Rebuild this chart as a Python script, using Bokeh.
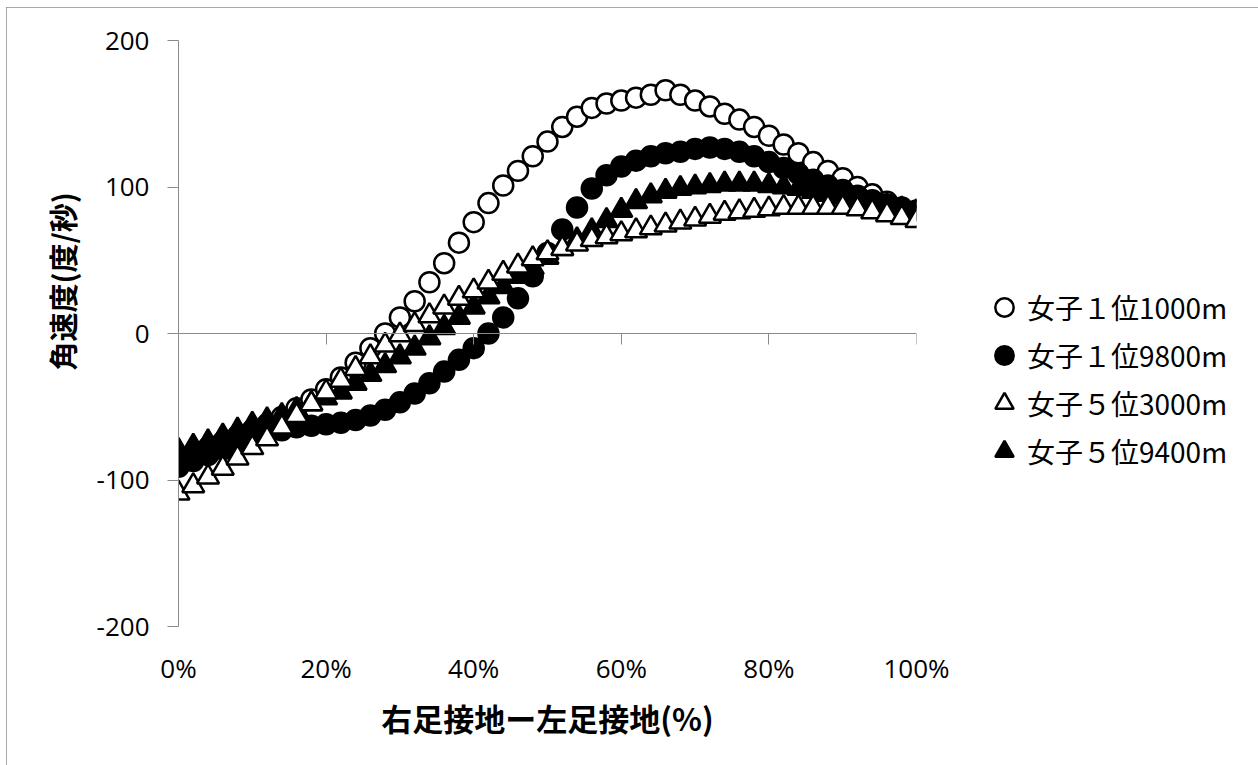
import math
from bokeh.plotting import figure
from bokeh.models import (Range1d, LinearAxis, FixedTicker, Legend, LegendItem, Title)
from bokeh.embed import file_html
from bokeh.resources import INLINE

# ---- data ----
x_pct = [0, 2, 4, 6, 8, 10, 12, 14, 16, 18, 20, 22, 24, 26, 28, 30, 32, 34, 36, 38, 40,
         42, 44, 46, 48, 50, 52, 54, 56, 58, 60, 62, 64, 66, 68, 70, 72, 74, 76, 78, 80,
         82, 84, 86, 88, 90, 92, 94, 96, 98, 100]

w1_1000m = [-86, -82, -78, -74, -70, -66, -62, -57, -51, -45, -38, -30, -20, -10, 0, 11, 22, 35, 48, 62, 76,
            89, 101, 111, 121, 131, 141, 148, 154, 157, 159, 161, 163, 166, 163, 159, 155, 150, 146, 141, 135,
            129, 123, 117, 111, 106, 100, 95, 90, 85, 80]

w1_9800m = [-91, -87, -83, -79, -75, -71, -68, -66, -64, -63, -62, -61, -59, -56, -52, -47, -41, -34, -26, -18, -10,
            0, 11, 24, 39, 55, 71, 86, 99, 108, 114, 118, 121, 123, 124, 126, 127, 126, 124, 121, 117,
            113, 109, 105, 101, 98, 94, 91, 88, 86, 84]

w5_3000m = [-109, -104, -98, -92, -85, -78, -72, -64, -56, -48, -40, -32, -24, -16, -8, -1, 6, 12, 18, 24, 29,
            35, 41, 46, 51, 55, 58, 61, 64, 66, 68, 70, 72, 74, 76, 78, 80, 82, 83, 84, 85,
            86, 86, 86, 86, 86, 85, 83, 81, 79, 77]

w5_9400m = [-80, -77, -74, -70, -66, -62, -59, -56, -52, -48, -44, -40, -34, -28, -22, -16, -10, -3, 4, 11, 18,
            25, 32, 39, 45, 52, 58, 64, 70, 77, 84, 90, 94, 97, 99, 100, 101, 102, 102, 102, 101,
            100, 99, 97, 95, 93, 91, 89, 87, 85, 83]

series_names = ["女子１位1000m", "女子１位9800m", "女子５位3000m", "女子５位9400m"]
x_ticks = [0, 20, 40, 60, 80, 100]
y_ticks = [-200, -100, 0, 100, 200]
y_title = "角速度(度/秒)"
x_title = "右足接地ー左足接地(%)"

AXIS_GRAY = "#8a8a8a"
TICK_FONT = "Open Sans"
CJK_FONT = "Noto Sans CJK JP"

p = figure(frame_width=738, frame_height=586,
           min_border_left=172, min_border_right=340, min_border_top=33, min_border_bottom=139,
           x_range=Range1d(0, 100), y_range=Range1d(-200, 200),
           output_backend="svg", toolbar_location=None, background_fill_color="white",
           border_fill_color="white")
p.styles = {"outline": "1px solid #8c8c8c", "outline-offset": "-1px",
            "margin-left": "6px", "margin-top": "7px"}
p.outline_line_color = None
p.xgrid.visible = False
p.ygrid.visible = False

# y axis
ya = p.yaxis[0]
ya.ticker = FixedTicker(ticks=y_ticks)
ya.major_label_overrides = {t: str(t) for t in y_ticks}
ya.axis_line_color = AXIS_GRAY
ya.major_tick_line_color = AXIS_GRAY
ya.major_tick_out = 11
ya.major_tick_in = 0
ya.minor_tick_line_color = None
ya.major_label_text_font = TICK_FONT
ya.major_label_text_font_size = "26px"
ya.major_label_text_color = "black"
ya.major_label_standoff = 18

# y title (shifted up like the reference)
p.add_layout(Title(text=y_title, align="left", offset=256, standoff=22,
                   text_font=CJK_FONT, text_font_style="bold", text_font_size="29px",
                   text_color="black"), "left")

# x axis (labels only at bottom)
xa = p.xaxis[0]
xa.ticker = FixedTicker(ticks=x_ticks)
xa.major_label_overrides = {t: f"{t}%" for t in x_ticks}
xa.axis_line_color = None
xa.major_tick_line_color = None
xa.major_tick_out = 0
xa.major_tick_in = 0
xa.minor_tick_line_color = None
xa.major_label_text_font = TICK_FONT
xa.major_label_text_font_size = "26px"
xa.major_label_text_color = "black"
xa.major_label_standoff = 23
xa.axis_label = x_title
xa.axis_label_text_font = CJK_FONT
xa.axis_label_text_font_style = "bold"
xa.axis_label_text_font_size = "31px"
xa.axis_label_text_color = "black"
xa.axis_label_standoff = 6

# axis line at y = 0 with downward ticks
zero_axis = LinearAxis(fixed_location=0, ticker=FixedTicker(ticks=x_ticks),
                       axis_line_color=AXIS_GRAY, major_tick_line_color=AXIS_GRAY,
                       major_tick_in=11, major_tick_out=0, minor_tick_line_color=None,
                       major_label_text_font_size="0px", major_label_text_alpha=0)
p.add_layout(zero_axis, "above")

# series in drawing order
rA = p.scatter(x_pct, w1_1000m, marker="circle", size=20, fill_color="white",
               line_color="black", line_width=2.5)
rB = p.scatter(x_pct, w1_9800m, marker="circle", size=20, fill_color="black",
               line_color="black", line_width=2.5)
rD = p.scatter(x_pct, w5_9400m, marker="triangle", size=22, fill_color="black",
               line_color="black", line_width=2.5)
rC = p.scatter(x_pct, w5_3000m, marker="triangle", size=22, fill_color="white",
               line_color="black", line_width=2.5)

legend = Legend(items=[LegendItem(label=series_names[0], renderers=[rA]),
                       LegendItem(label=series_names[1], renderers=[rB]),
                       LegendItem(label=series_names[2], renderers=[rC]),
                       LegendItem(label=series_names[3], renderers=[rD])],
                location=(65, 152), glyph_width=46, glyph_height=46, spacing=2,
                label_standoff=0, padding=0, margin=0, border_line_color=None,
                background_fill_alpha=0, label_text_font=CJK_FONT,
                label_text_font_size="28px", label_text_color="black", label_height=46)
p.add_layout(legend, "right")

open("out.html", "w").write(file_html(p, INLINE))
